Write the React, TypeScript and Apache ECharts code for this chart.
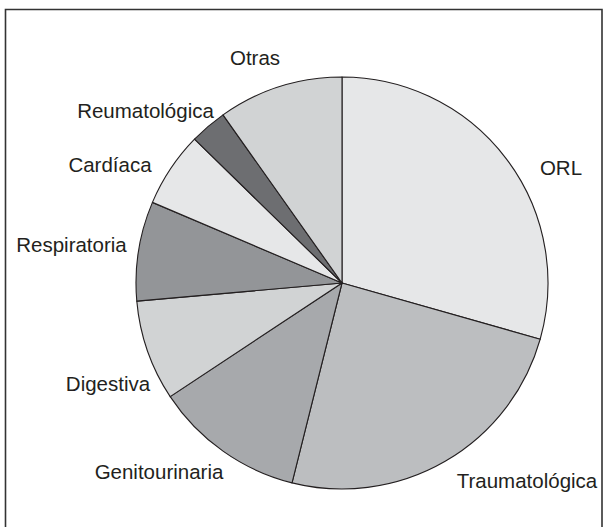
import React, { useEffect, useRef } from "react";
import * as echarts from "echarts";

const categories = [
  "ORL",
  "Traumatológica",
  "Genitourinaria",
  "Digestiva",
  "Respiratoria",
  "Cardíaca",
  "Reumatológica",
  "Otras",
];
const values = [29.4, 24.5, 11.8, 7.9, 7.8, 5.9, 2.9, 9.8];

// styling / layout (not data)
const sliceColors = [
  "#e6e7e8",
  "#bcbec0",
  "#a7a9ac",
  "#d1d3d4",
  "#939598",
  "#e6e7e8",
  "#6d6e71",
  "#d1d3d4",
];
const labelCenters: [number, number][] = [
  [561, 167],
  [527, 480],
  [159, 471],
  [108, 383],
  [71.5, 244],
  [110, 164],
  [145.5, 110],
  [255, 57],
];

export default function App() {
  const ref = useRef<HTMLDivElement>(null);
  useEffect(() => {
    if (!ref.current) return;
    const chart = echarts.init(ref.current, undefined, { renderer: "svg" });
    chart.setOption({
      animation: false,
      backgroundColor: "#ffffff",
      graphic: [
        {
          type: "rect",
          shape: { x: 5.5, y: 9.5, width: 596.5, height: 540 },
          style: { fill: "none", stroke: "#333333", lineWidth: 1.6 },
          silent: true,
          z: 100,
        },
      ],
      series: [
        {
          type: "pie",
          center: [342, 283],
          radius: 206,
          startAngle: 90,
          clockwise: true,
          avoidLabelOverlap: false,
          data: categories.map((c, i) => ({
            name: c,
            value: values[i],
            itemStyle: { color: sliceColors[i] },
          })),
          itemStyle: { borderColor: "#231f20", borderWidth: 1.1 },
          label: {
            show: true,
            position: "outside",
            formatter: "{b}",
            color: "#231f20",
            fontFamily: "Liberation Sans, Arial, sans-serif",
            fontSize: 20.5,
          },
          labelLine: { show: false },
          labelLayout: (params: any) => {
            const p = labelCenters[params.dataIndex];
            return { x: p[0], y: p[1], align: "center", verticalAlign: "middle" };
          },
          emphasis: { disabled: true },
        },
      ],
    });
    return () => chart.dispose();
  }, []);
  return (
    <div
      ref={ref}
      style={{ position: "fixed", left: 0, top: 0, width: 605, height: 527 }}
    />
  );
}
